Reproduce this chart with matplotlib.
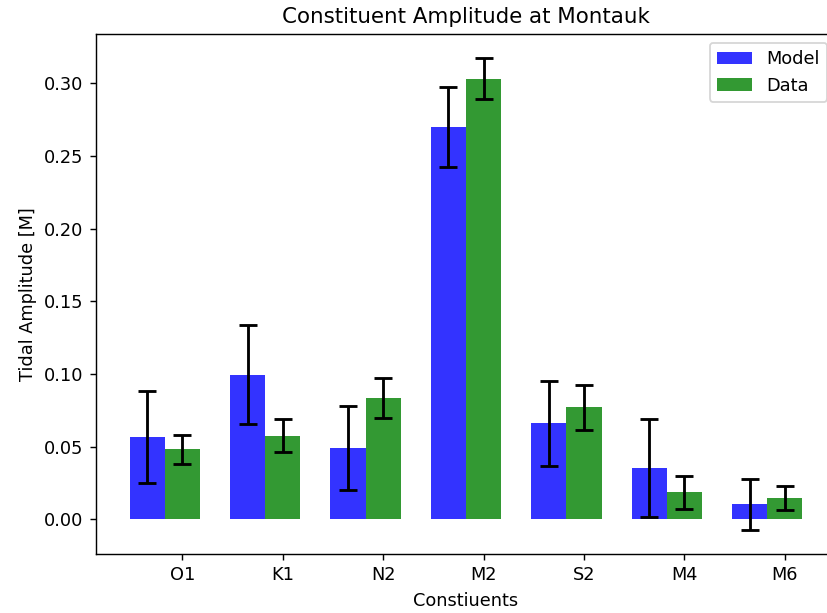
import numpy as np
import matplotlib
matplotlib.use("Agg")
import matplotlib.pyplot as plt

constituents = ["O1", "K1", "N2", "M2", "S2", "M4", "M6"]
model_amp = [0.0566, 0.0993, 0.0492, 0.2697, 0.0659, 0.0352, 0.0101]
model_err = [0.0317, 0.0340, 0.0289, 0.0274, 0.0293, 0.0334, 0.0178]
data_amp = [0.0480, 0.0574, 0.0834, 0.3032, 0.0770, 0.0184, 0.0147]
data_err = [0.0101, 0.0113, 0.0138, 0.0144, 0.0153, 0.0112, 0.0083]

bar_width = 0.35
opacity = 0.8
index = np.arange(len(constituents))

fig = plt.figure(figsize=(827 / 128, 613 / 128), dpi=128)
# axes runs a few pixels past the right edge, like the cropped original
ax = fig.add_axes([96 / 827, 59 / 613, 740 / 827, 520 / 613])

err_kw = dict(ecolor="k", capsize=5, elinewidth=1.6, capthick=1.6)
ax.bar(index, model_amp, bar_width, alpha=opacity, color="b",
       yerr=model_err, error_kw=err_kw, label="Model")
ax.bar(index + bar_width, data_amp, bar_width, alpha=opacity, color="g",
       yerr=data_err, error_kw=err_kw, label="Data")

ax.set_xticks(index + bar_width)
ax.set_xticklabels(constituents)
ax.set_xlabel("Constiuents")
ax.set_ylabel("Tidal Amplitude [M]")
ax.set_title("Constituent Amplitude at Montauk")
ax.legend(loc="upper right")

fig.savefig("out.png", dpi=128)
